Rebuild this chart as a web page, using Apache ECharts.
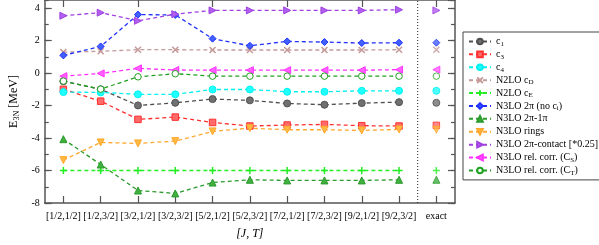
<!DOCTYPE html>
<html><head><meta charset="utf-8">
<script src="https://cdn.jsdelivr.net/npm/echarts@6/dist/echarts.min.js"></script>
<style>html,body{margin:0;padding:0;background:#fff}#c{width:599px;height:245px}</style>
</head><body><div id="c"></div>
<script>
const categories = ['[1/2,1/2]','[1/2,3/2]','[3/2,1/2]','[3/2,3/2]','[5/2,1/2]','[5/2,3/2]','[7/2,1/2]','[7/2,3/2]','[9/2,1/2]','[9/2,3/2]','exact'];
const seriesNames = ['c1','c3','c4','N2LO cD','N2LO cE','N3LO 2π (no ci)','N3LO 2π-1π','N3LO rings','N3LO 2π-contact [*0.25]','N3LO rel. corr. (CS)','N3LO rel. corr. (CT)'];
const c1       = [-0.50,-1.00,-1.99,-1.83,-1.60,-1.68,-1.87,-1.95,-1.85,-1.79];
const c3       = [-1.00,-1.73,-2.85,-2.71,-3.04,-3.26,-3.20,-3.16,-3.24,-3.26];
const c4       = [-1.17,-1.19,-1.31,-1.31,-1.01,-1.01,-1.15,-1.15,-1.09,-1.09];
const cD       = [1.29,1.34,1.44,1.44,1.42,1.42,1.42,1.42,1.42,1.44];
const cE       = [-6,-6,-6,-6,-6,-6,-6,-6,-6,-6];
const twoPi    = [1.09,1.64,3.60,3.58,2.12,1.68,1.95,1.91,1.85,1.87];
const twoPi1Pi = [-4.07,-5.63,-7.23,-7.41,-6.74,-6.57,-6.61,-6.61,-6.61,-6.57];
const rings    = [-5.36,-4.27,-4.33,-4.19,-3.59,-3.39,-3.49,-3.49,-3.53,-3.47];
const contact  = [3.53,3.72,3.22,3.63,3.86,3.86,3.86,3.86,3.86,3.90];
const relCS    = [-0.19,-0.02,0.29,0.19,0.18,0.18,0.18,0.18,0.18,0.21];
const relCT    = [-0.49,-0.99,-0.23,-0.04,-0.19,-0.19,-0.19,-0.19,-0.19,-0.19];
const exactVals = [-1.83,-3.22,-1.09,1.44,-6,1.87,-6.57,-3.49,3.86,0.21,-0.19];
const separatorX = [9.5];
const yTickLabels = ['-8','-6','-4','-2','0','2','4'];

const allVals = [c1,c3,c4,cD,cE,twoPi,twoPi1Pi,rings,contact,relCS,relCT];
const lineColors = ['#505050','#ff3030','#00f0f0','#c49a9a','#22ee22','#2030ff','#2a9a2a','#ffa830','#a040e0','#ff30ff','#20a020'];
const fillColors = ['#707070','#ff6a6a','#20ffff','none','none','#4060ff','#40b040','#ffb840','#b060f0','#ff60ff','#ffffff'];
const symbols = ['circle','rect','circle','path://M0,0L10,10M0,10L10,0','path://M5,0L5,10M0,5L10,5','diamond','triangle','path://M0,0L10,0L5,10Z','path://M0,0L10,5L0,10Z','path://M10,0L0,5L10,10Z','circle'];
const symSizes = [7,6.5,7,6,7,7,7,7,7,7,6.5];
const legendRich = {
 'c1':'{t|c}{s|1}','c3':'{t|c}{s|3}','c4':'{t|c}{s|4}',
 'N2LO cD':'{t|N2LO c}{s|D}','N2LO cE':'{t|N2LO c}{s|E}',
 'N3LO 2π (no ci)':'{t|N3LO 2π (no c}{s|i}{t|)}',
 'N3LO 2π-1π':'{t|N3LO 2π-1π}','N3LO rings':'{t|N3LO rings}',
 'N3LO 2π-contact [*0.25]':'{t|N3LO 2π-contact [*0.25]}',
 'N3LO rel. corr. (CS)':'{t|N3LO rel. corr. (C}{s|S}{t|)}',
 'N3LO rel. corr. (CT)':'{t|N3LO rel. corr. (C}{s|T}{t|)}'
};
const F = 'Liberation Serif';
const series = [];
seriesNames.forEach((n,i)=>{
  const st = {color: fillColors[i], borderColor: lineColors[i], borderWidth: (i===3||i===4)?1.5:1};
  series.push({name:n,type:'line',xAxisIndex:0,yAxisIndex:0,data:allVals[i].concat([null]),
    symbol:symbols[i],symbolSize:symSizes[i],showAllSymbol:true,
    lineStyle:{color:lineColors[i],width:1.3,type:[4,3]},itemStyle:st,z:2+i});
  series.push({type:'scatter',xAxisIndex:0,yAxisIndex:0,data:[[categories.length-1,exactVals[i]]],
    symbol:symbols[i],symbolSize:symSizes[i],itemStyle:st,z:2+i});
});
series.push({type:'line',xAxisIndex:2,yAxisIndex:0,data:[[separatorX[0],-8],[separatorX[0],4.5]],symbol:'none',
  lineStyle:{color:'#222',width:1,type:[1,2]},silent:true,z:1});

const axisLine = {show:true,onZero:false,lineStyle:{color:'#555',width:1.5}};
const chart = echarts.init(document.getElementById('c'));
chart.setOption({
  animation:false,
  grid:{left:29,right:144,top:0,bottom:31},
  xAxis:[
    {type:'category',data:categories,position:'bottom',axisLine:axisLine,
     axisTick:{show:true,inside:true,alignWithLabel:true,length:7,lineStyle:{color:'#555',width:1.2}},
     axisLabel:{fontFamily:F,fontSize:10,color:'#000',margin:8,interval:0},
     name:'[J, T]',nameLocation:'middle',nameGap:25,
     nameTextStyle:{fontFamily:F,fontSize:12,fontStyle:'italic',color:'#000'}},
    {type:'category',data:categories,position:'top',axisLine:axisLine,
     axisTick:{show:true,inside:true,alignWithLabel:true,length:7,lineStyle:{color:'#555',width:1.2}},
     axisLabel:{show:false}},
    {type:'value',min:-0.5,max:10.5,show:false,axisLine:{onZero:false}}
  ],
  yAxis:[
    {type:'value',min:-8,max:4.5,interval:2,position:'left',axisLine:axisLine,splitLine:{show:false},
     axisTick:{show:true,inside:true,length:7,lineStyle:{color:'#555',width:1.2}},
     axisLabel:{fontFamily:F,fontSize:10,color:'#000',margin:5,showMaxLabel:false,
       formatter:(v)=>{const s=String(v);return yTickLabels.indexOf(s)>=0?s:'';}},
     name:'{t|E}{s|3N}{t| [MeV]}',nameLocation:'middle',nameGap:19,nameRotate:90,
     nameTextStyle:{rich:{t:{fontFamily:F,fontSize:12,color:'#000'},s:{fontFamily:F,fontSize:8,color:'#000',padding:[5,0,0,0]}}}},
    {type:'value',min:-8,max:4.5,interval:1,position:'left',axisLine:{show:false,onZero:false},splitLine:{show:false},
     axisTick:{show:true,inside:true,length:4,lineStyle:{color:'#555',width:1.2}},axisLabel:{show:false}},
    {type:'value',min:-8,max:4.5,interval:2,position:'right',axisLine:axisLine,splitLine:{show:false},
     axisTick:{show:true,inside:true,length:7,lineStyle:{color:'#555',width:1.2}},axisLabel:{show:false}},
    {type:'value',min:-8,max:4.5,interval:1,position:'right',axisLine:{show:false,onZero:false},splitLine:{show:false},
     axisTick:{show:true,inside:true,length:4,lineStyle:{color:'#555',width:1.2}},axisLabel:{show:false}}
  ],
  legend:{
    data:seriesNames,orient:'vertical',left:463,top:32,width:135,
    backgroundColor:'#fff',borderColor:'#444',borderWidth:1,borderRadius:0,
    padding:[3,2,3,5],itemGap:0,itemWidth:22,itemHeight:7,
    textStyle:{fontFamily:F,fontSize:10,color:'#000',lineHeight:12.9,
      rich:{t:{fontFamily:F,fontSize:10,color:'#000',lineHeight:12.9},s:{fontFamily:F,fontSize:7,color:'#000',padding:[5,0,0,0],lineHeight:12.9}}},
    formatter:(n)=>legendRich[n]||n
  },
  series:series
});
</script></body></html>
